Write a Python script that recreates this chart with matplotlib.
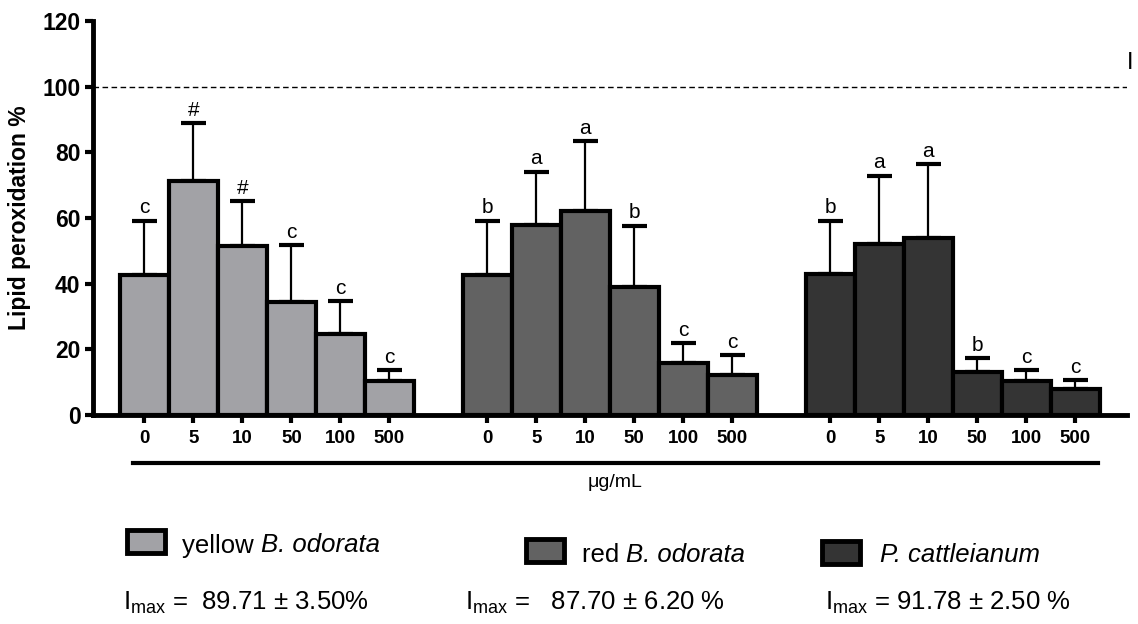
import numpy as np
import matplotlib
matplotlib.use('Agg')
import matplotlib.pyplot as plt
from matplotlib.patches import Rectangle
import matplotlib.transforms as mtransforms

plt.rcParams['font.family'] = ['Liberation Sans', 'DejaVu Sans']
plt.rcParams['mathtext.fontset'] = 'custom'
plt.rcParams['mathtext.rm'] = 'Liberation Sans'
plt.rcParams['mathtext.it'] = 'Liberation Sans:italic'

# data
doses = ['0', '5', '10', '50', '100', '500']
yellow_mean = [42.6, 71.3, 51.6, 34.3, 24.6, 10.2]
yellow_top = [59.2, 88.8, 65.1, 51.8, 34.7, 13.7]
red_mean = [42.6, 57.9, 62.2, 39.1, 15.7, 12.2]
red_top = [59.2, 74.1, 83.5, 57.7, 21.8, 18.3]
catt_mean = [42.9, 52.1, 53.8, 13.2, 10.4, 7.8]
catt_top = [59.2, 72.9, 76.5, 17.3, 13.7, 10.7]
yellow_letters = ['c', '#', '#', 'c', 'c', 'c']
red_letters = ['b', 'a', 'a', 'b', 'c', 'c']
catt_letters = ['b', 'a', 'a', 'b', 'c', 'c']
legend_plain = ['yellow ', 'red ', '']
legend_italic = ['B. odorata', 'B. odorata', 'P. cattleianum']
imax_text = ['=  89.71 ± 3.50%', '=   87.70 ± 6.20 %', '= 91.78 ± 2.50 %']
colors = ['#a2a2a6', '#626262', '#343434']

means = [yellow_mean, red_mean, catt_mean]
tops = [yellow_top, red_top, catt_top]
letters = [yellow_letters, red_letters, catt_letters]

fig = plt.figure(figsize=(11.38, 6.24), dpi=100)
ax = fig.add_axes([0.0817, 0.335, 0.9083, 0.6313])

for g in range(3):
    x = np.arange(6) + 7 * g
    m = np.array(means[g])
    err = np.array(tops[g]) - m
    ax.errorbar(x, m, yerr=[np.zeros(6), err], fmt='none', ecolor='black',
                elinewidth=1.6, capsize=9, capthick=3, zorder=1)
    ax.bar(x, m, width=1.0, color=colors[g], edgecolor='black', linewidth=3, zorder=2)
    for xi, t, lab in zip(x, tops[g], letters[g]):
        ax.text(xi, t + 1.0, lab, ha='center', va='bottom', fontsize=15)

ax.axhline(100, color='black', linestyle=(0, (4, 2.5)), linewidth=1)

ax.set_xlim(-1.05, 20.05)
ax.set_ylim(0, 120)
ax.set_yticks([0, 20, 40, 60, 80, 100, 120])
ax.set_xticks(np.concatenate([np.arange(6) + 7 * g for g in range(3)]))
ax.set_xticklabels(doses * 3, fontweight='bold', fontsize=13.5)
for lab in ax.get_yticklabels():
    lab.set_fontweight('bold')
    lab.set_fontsize(16.5)
ax.tick_params(axis='y', length=6, width=3, pad=3)
ax.tick_params(axis='x', length=6, width=3, pad=5)
for side in ['top', 'right']:
    ax.spines[side].set_visible(False)
ax.spines['left'].set_linewidth(3.5)
ax.spines['bottom'].set_linewidth(3.5)
ax.set_ylabel('Lipid peroxidation %', fontweight='bold', fontsize=16.5, labelpad=8)

# unit line under the tick labels
trans = mtransforms.blended_transform_factory(ax.transData, ax.transAxes)
ax.plot([-0.23, 19.46], [-0.122, -0.122], color='black', linewidth=3,
        transform=trans, clip_on=False)
ax.text(9.6, -0.15, 'μg/mL', transform=trans, ha='center', va='top', fontsize=14)

fig.text(0.993, 0.899, 'I', ha='center', va='center', fontsize=17)

# legend drawn by hand
W, H = 1138, 624
boxes = [(127, 530), (526, 539), (822, 541)]
text_x = [182, 582, 880]
text_y = [543, 552, 552]
for (bx, by), tx, ty, p, it, c in zip(boxes, text_x, text_y, legend_plain,
                                      legend_italic, colors):
    fig.add_artist(Rectangle((bx / W, 1 - (by + 23) / H), 38 / W, 23 / H,
                             facecolor=c, edgecolor='black', linewidth=3.5,
                             transform=fig.transFigure))
    if p:
        t1 = fig.text(tx / W, 1 - ty / H, p, ha='left', va='center_baseline',
                      fontsize=18.5)
        fig.add_artist(plt.Annotation(it, xy=(1, 0), xycoords=t1, ha='left',
                                      va='bottom', fontsize=18.5, fontstyle='italic'))
    else:
        fig.text(tx / W, 1 - ty / H, it, ha='left', va='center_baseline',
                 fontsize=18.5, fontstyle='italic')

for px, t in zip([123, 465, 825], imax_text):
    fig.text(px / W, 1 - 603 / H, 'I$_{\\mathrm{max}}$ ' + t,
             ha='left', va='center', fontsize=18.5)

fig.savefig('out.png', dpi=100)
